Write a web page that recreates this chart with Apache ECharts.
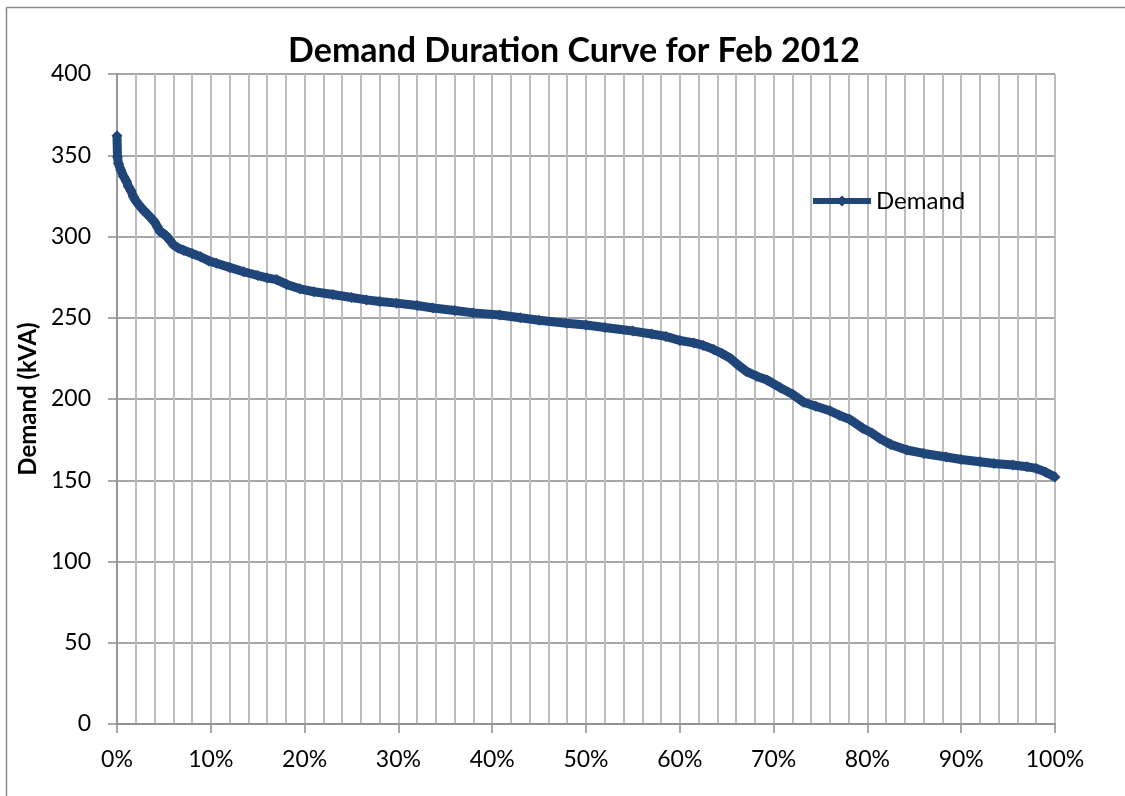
<!DOCTYPE html>
<html>
<head>
<meta charset="utf-8">
<script src="https://cdn.jsdelivr.net/npm/echarts@6/dist/echarts.min.js"></script>
<style>
html,body{margin:0;padding:0;background:#fff;}
#chart{width:1125px;height:796px;}
</style>
</head>
<body>
<div id="chart"></div>
<script>
var titleText = 'Demand Duration Curve for Feb 2012';
var seriesName = 'Demand';
var yAxisTitle = 'Demand (kVA)';
// percentage of time (x, %)
var pct = [0, 0.05, 0.15, 0.4, 0.7, 1.0, 1.2, 1.5, 1.75, 2.0, 2.4, 2.8, 3.2, 3.6, 4.0, 4.3, 4.6, 4.9, 5.3, 5.6,
  6.0, 6.5, 7.1, 8.0, 8.9, 9.8, 10.6, 12, 13.5, 15, 16, 17, 18.1, 19.5, 21, 23, 25, 26.6, 28, 29.8,
  32, 33.7, 36, 38, 40.8, 43, 45, 47.9, 50, 52, 55, 57, 58.5, 60, 61.5, 62.5, 63.6, 64.5, 65.4, 66.2,
  67.1, 68.2, 69.3, 70.7, 72, 73.2, 74.5, 76, 77, 78.1, 79.5, 80.5, 81.3, 82.5, 84.2, 86, 88.4, 90,
  92, 93.5, 95.5, 97, 98, 99, 100];
// demand (kVA)
var demand = [362, 349, 345, 341, 337, 334, 331, 328, 324.5, 322, 319, 316.3, 314, 311.5, 309, 306, 303, 302, 300, 298,
  295, 293, 291.5, 289.5, 287.5, 285, 283.5, 281, 278.3, 276, 274.5, 273.5, 270.5, 267.8, 266, 264.3, 262.5, 261, 260, 259,
  257.5, 256, 254.5, 253, 251.7, 250, 248.5, 246.6, 245.5, 244, 241.8, 240, 238.5, 236, 234.5, 233, 230.5, 228, 225, 221,
  217, 214, 211.7, 207, 203, 198, 195.5, 192.8, 190, 187.5, 182, 179, 175.8, 172, 168.6, 166.5, 164.3, 162.8,
  161.4, 160.3, 159.4, 158.3, 157.3, 155, 152];
var xTicks = [0, 10, 20, 30, 40, 50, 60, 70, 80, 90, 100];
var yTicks = [0, 50, 100, 150, 200, 250, 300, 350, 400];

var points = pct.map(function (p, i) { return [p, demand[i]]; });
var FONT = 'Lato';
var chart = echarts.init(document.getElementById('chart'), null, {renderer: 'canvas'});
chart.setOption({
  backgroundColor: '#ffffff',
  animation: false,
  textStyle: {fontFamily: FONT},
  title: {
    text: titleText,
    left: 569,
    top: 29,
    textAlign: 'center',
    textStyle: {fontFamily: FONT, fontSize: 34, fontWeight: 'bold', color: '#000'}
  },
  graphic: [
    {type: 'line', shape: {x1: 6.5, y1: 7.5, x2: 1125, y2: 7.5}, style: {stroke: '#8a8a8a', lineWidth: 1.5}, silent: true},
    {type: 'line', shape: {x1: 6.5, y1: 7.5, x2: 6.5, y2: 796}, style: {stroke: '#8a8a8a', lineWidth: 1.5}, silent: true}
  ],
  legend: {
    data: [seriesName],
    left: 810,
    top: 189,
    padding: 0,
    itemWidth: 58,
    itemHeight: 14,
    itemGap: 5,
    lineStyle: {width: 6},
    textStyle: {fontFamily: FONT, fontSize: 24, color: '#000'}
  },
  grid: {left: 117, right: 70, top: 74, bottom: 72, containLabel: false},
  xAxis: {
    type: 'value',
    min: xTicks[0],
    max: xTicks[xTicks.length - 1],
    interval: 10,
    axisLine: {show: true, lineStyle: {color: '#8c8c8c', width: 1.5}},
    axisTick: {show: true, length: 9, lineStyle: {color: '#8c8c8c', width: 1.5}},
    axisLabel: {margin: 24, fontFamily: FONT, fontSize: 23, color: '#000', formatter: '{value}%'},
    splitLine: {show: true, lineStyle: {color: '#bdbdbd', width: 2}},
    minorTick: {show: false, splitNumber: 5},
    minorSplitLine: {show: true, lineStyle: {color: '#bdbdbd', width: 2}}
  },
  yAxis: {
    type: 'value',
    min: yTicks[0],
    max: yTicks[yTicks.length - 1],
    interval: 50,
    name: yAxisTitle,
    nameLocation: 'middle',
    nameGap: 77,
    nameTextStyle: {fontFamily: FONT, fontSize: 24, fontWeight: 'bold', color: '#000'},
    axisLine: {show: true, lineStyle: {color: '#8c8c8c', width: 1.5}},
    axisTick: {show: true, length: 9, lineStyle: {color: '#8c8c8c', width: 1.5}},
    axisLabel: {margin: 26, fontFamily: FONT, fontSize: 23, color: '#000'},
    splitLine: {show: true, lineStyle: {color: '#a6a6a6', width: 2}}
  },
  series: [{
    name: seriesName,
    type: 'line',
    data: points,
    symbol: 'diamond',
    symbolSize: 11,
    showSymbol: true,
    lineStyle: {color: '#1f4579', width: 9},
    itemStyle: {color: '#1f4579'}
  }]
});
</script>
</body>
</html>
